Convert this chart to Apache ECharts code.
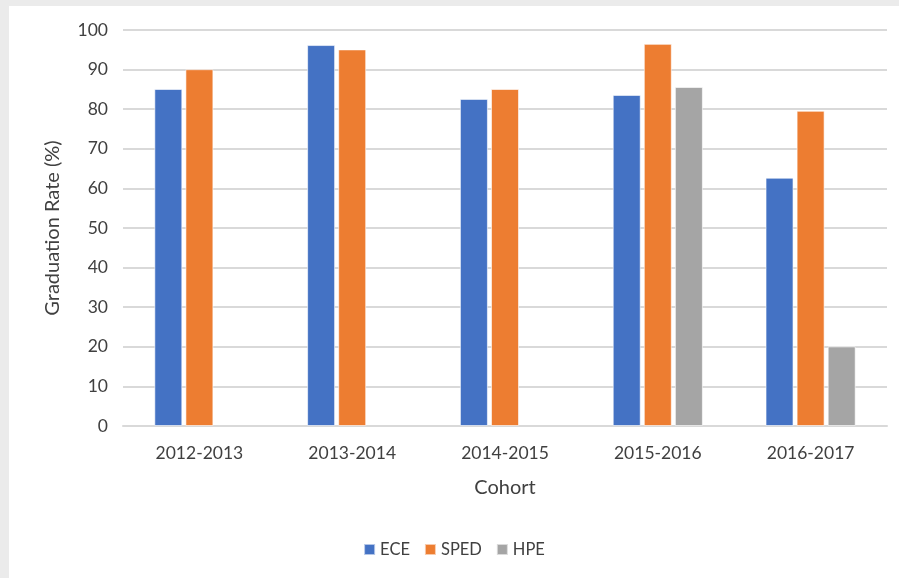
<!DOCTYPE html>
<html>
<head>
<meta charset="utf-8">
<script src="https://cdn.jsdelivr.net/npm/echarts@6/dist/echarts.min.js"></script>
<style>
  html, body { margin: 0; padding: 0; background: #ebebeb; }
  #main { position: absolute; left: 9px; top: 6px; width: 890px; height: 572px; background: #fff; }
</style>
</head>
<body>
<div id="main"></div>
<script>
// cohorts on the x axis
const cohorts = ['2012-2013', '2013-2014', '2014-2015', '2015-2016', '2016-2017'];
// graduation rate (%) per program
const ece = [85.1, 96.2, 82.6, 83.6, 62.7];
const sped = [90.1, 95.1, 85.1, 96.5, 79.6];
const hpe = [null, null, null, 85.6, 20.1];

const font = 'Lato, "Open Sans", sans-serif';
const chart = echarts.init(document.getElementById('main'));

function bar(name, data, color) {
  return {
    name: name,
    type: 'bar',
    data: data,
    barWidth: 28,
    barGap: '11%',
    itemStyle: { color: color, borderColor: 'rgba(255,255,255,0.6)', borderWidth: 1 }
  };
}

chart.setOption({
  animation: false,
  textStyle: { fontFamily: font },
  grid: { left: 114, right: 12, top: 24, bottom: 152 },
  legend: {
    bottom: 15,
    left: 'center',
    itemWidth: 11,
    itemHeight: 11,
    itemGap: 14,
    icon: 'rect',
    textStyle: { fontSize: 16.5, color: '#404040', fontFamily: font }
  },
  xAxis: {
    type: 'category',
    data: cohorts,
    name: 'Cohort',
    nameLocation: 'middle',
    nameGap: 52,
    nameTextStyle: { fontSize: 20, color: '#404040' },
    axisTick: { show: false },
    axisLine: { lineStyle: { color: '#d9d9d9', width: 2 } },
    axisLabel: { fontSize: 17.5, color: '#404040', margin: 18 }
  },
  yAxis: {
    type: 'value',
    min: 0,
    max: 100,
    interval: 10,
    name: 'Graduation Rate (%)',
    nameLocation: 'middle',
    nameGap: 60,
    nameTextStyle: { fontSize: 20, color: '#404040' },
    axisLabel: { fontSize: 17.5, color: '#404040', margin: 15 },
    splitLine: { lineStyle: { color: '#d9d9d9', width: 2 } }
  },
  series: [
    bar('ECE', ece, '#4472C4'),
    bar('SPED', sped, '#ED7D31'),
    bar('HPE', hpe, '#A5A5A5')
  ]
});
</script>
</body>
</html>
